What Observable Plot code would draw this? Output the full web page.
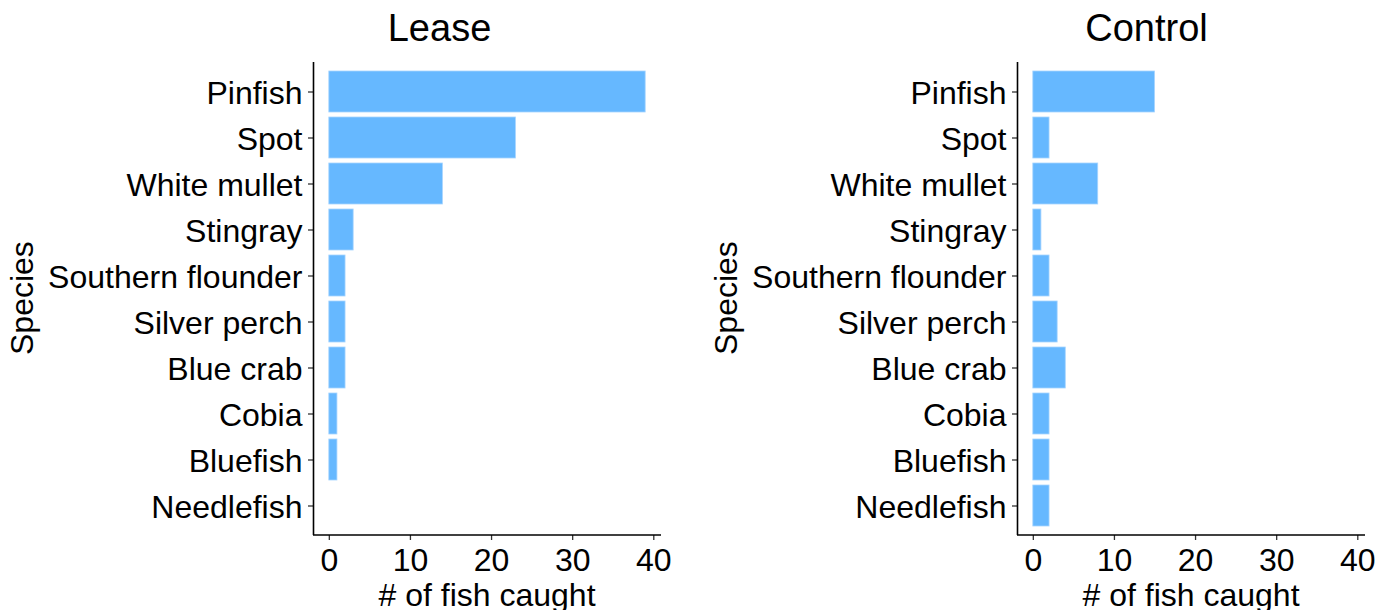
<!DOCTYPE html>
<html>
<head>
<meta charset="utf-8">
<script src="https://cdn.jsdelivr.net/npm/d3@7"></script>
<script src="https://cdn.jsdelivr.net/npm/@observablehq/plot@0.6"></script>
<style>
  html, body { margin: 0; padding: 0; background: #fff; }
  #wrap { position: relative; width: 1390px; height: 610px; overflow: hidden;
          font-family: "Liberation Sans", Arial, sans-serif; color: #000; }
  .panel { position: absolute; top: 0; }
  .title { position: absolute; font-size: 38px; line-height: 1; white-space: nowrap; transform: translateX(-50%); }
  .xlab { position: absolute; font-size: 32px; line-height: 1; white-space: nowrap; transform: translateX(-50%); }
  .ylab { position: absolute; font-size: 32px; line-height: 1; white-space: nowrap;
          transform-origin: 0 0; }
</style>
</head>
<body>
<div id="wrap"></div>
<script>
const species = ["Pinfish","Spot","White mullet","Stingray","Southern flounder","Silver perch","Blue crab","Cobia","Bluefish","Needlefish"];
const leaseCounts = [39, 23, 14, 3, 2, 2, 2, 1, 1, 0];
const controlCounts = [15, 2, 8, 1, 2, 3, 4, 2, 2, 2];
const xTicks = [0, 10, 20, 30, 40];
const panelTitles = ["Lease", "Control"];
const xTitle = "# of fish caught";
const yTitle = "Species";

const wrap = document.getElementById("wrap");
const BASE = 0.8465; // baseline offset (em) inside a line-height:1 box for Liberation Sans

function panel(counts, width) {
  const data = species.map((s, i) => ({species: s, count: counts[i]}));
  return Plot.plot({
    width, height: 610,
    marginLeft: 313, marginRight: width - 661, marginTop: 62, marginBottom: 75,
    style: {fontFamily: '"Liberation Sans", Arial, sans-serif', fontSize: "32px", color: "#000", background: "transparent", overflow: "visible"},
    x: {domain: [-1.95, 40.95]},
    y: {domain: species, paddingInner: 0.1, paddingOuter: 0.15, align: 0.5},
    marks: [
      Plot.barX(data, {x: "count", y: "species", fill: "#66b8ff", stroke: "#a6d4ff", strokeWidth: 0.8}),
      Plot.axisX({ticks: xTicks, tickSize: 5, tickPadding: 8, label: null, stroke: "#333", strokeWidth: 1.3, fill: "#000"}),
      Plot.axisY({tickSize: 5, label: null, stroke: "#333", strokeWidth: 1.3, fill: "none"}),
      Plot.axisY({tickSize: 0, tickPadding: 11, dy: 2, label: null, stroke: "none", fill: "#000"}),
      Plot.ruleX([-1.95], {stroke: "#000", strokeWidth: 1.6})
    ]
  });
}

const layouts = [
  {counts: leaseCounts, left: 0, width: 695, titleX: 439.5},
  {counts: controlCounts, left: 704, width: 686, titleX: 442.5}
];

layouts.forEach((L, i) => {
  const svg = panel(L.counts, L.width);
  svg.classList.add("panel");
  svg.style.left = L.left + "px";
  wrap.appendChild(svg);

  // bottom axis line along the frame
  const ns = "http://www.w3.org/2000/svg";
  const line = document.createElementNS(ns, "line");
  line.setAttribute("x1", 313); line.setAttribute("x2", 661);
  line.setAttribute("y1", 535); line.setAttribute("y2", 535);
  line.setAttribute("stroke", "#000"); line.setAttribute("stroke-width", 1.6);
  svg.appendChild(line);

  const t = document.createElement("div");
  t.className = "title";
  t.textContent = panelTitles[i];
  t.style.left = (L.left + L.titleX) + "px";
  t.style.top = (41 - 38 * BASE) + "px";
  wrap.appendChild(t);

  const xl = document.createElement("div");
  xl.className = "xlab";
  xl.textContent = xTitle;
  xl.style.left = (L.left + 487) + "px";
  xl.style.top = (606 - 32 * BASE) + "px";
  wrap.appendChild(xl);

  const yl = document.createElement("div");
  yl.className = "ylab";
  yl.textContent = yTitle;
  wrap.appendChild(yl);
  const w = yl.getBoundingClientRect().width;
  yl.style.left = (L.left + 33 - 32 * BASE) + "px";
  yl.style.top = (298.5 + w / 2) + "px";
  yl.style.transform = "rotate(-90deg)";
});
</script>
</body>
</html>
